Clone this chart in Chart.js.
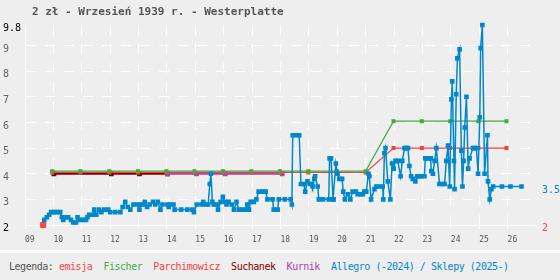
<!DOCTYPE html>
<html>
<head>
<meta charset="utf-8">
<script src="https://cdn.jsdelivr.net/npm/chart.js@4/dist/chart.umd.min.js"></script>
<style>
  html, body { margin: 0; padding: 0; background: #eeeeee; }
  #wrap { position: relative; width: 560px; height: 280px; overflow: hidden; }
  #legend {
    position: absolute; left: 0; top: 250px; width: 560px; height: 27px;
    border-top: 3px solid #fff; line-height: 27px; padding-left: 9px;
    font-family: "DejaVu Sans Mono", monospace; font-size: 10px; letter-spacing: -0.47px;
    white-space: pre; color: #555;
  }
</style>
</head>
<body>
<div id="wrap">
  <canvas id="chart" width="560" height="250"></canvas>
  <div id="legend"><span style="color:#555">Legenda:</span> <span style="color:#ff4444">emisja</span>  <span style="color:#44aa44">Fischer</span>  <span style="color:#ee4444">Parchimowicz</span>  <span style="color:#800000">Suchanek</span>  <span style="color:#aa44aa">Kurnik</span>  <span style="color:#0088cc">Allegro (-2024) / Sklepy (2025-)</span></div>
</div>
<script>
// tytul i osie
const title = '2 zł - Wrzesień 1939 r. - Westerplatte';
const xTickYears = [2009, 2010, 2011, 2012, 2013, 2014, 2015, 2016, 2017, 2018, 2019, 2020, 2021, 2022, 2023, 2024, 2025, 2026];
const yTicks = [2, 3, 4, 5, 6, 7, 8, 9, 9.8];

// emisja
const emisjaX = [2009.64];
const emisjaY = [2];

// Fischer
const fischerX = [2009.96, 2010.95, 2011.97, 2012.98, 2013.98, 2014.97, 2015.97, 2016.97, 2017.98, 2018.98, 2019.99, 2021.0, 2021.98, 2022.98, 2023.98, 2024.97, 2025.96];
const fischerY = [4.1, 4.1, 4.1, 4.1, 4.1, 4.1, 4.1, 4.1, 4.1, 4.1, 4.1, 4.1, 6.05, 6.05, 6.05, 6.05, 6.05];

// Parchimowicz
const parchX = [2009.96, 2010.95, 2011.97, 2012.98, 2013.98, 2014.97, 2015.97, 2016.97, 2017.98, 2018.98, 2019.99, 2021.0, 2021.98, 2022.98, 2023.98, 2024.97, 2025.96];
const parchY = [4.05, 4.05, 4.05, 4.05, 4.05, 4.05, 4.05, 4.05, 4.05, 4.05, 4.05, 4.05, 5.0, 5.0, 5.0, 5.0, 5.0];

// Suchanek
const suchanekX = [2010.02, 2012.04, 2013.03, 2014.02];
const suchanekY = [4.0, 4.0, 4.0, 4.0];

// Kurnik
const kurnikX = [2014.02, 2015.04, 2016.05, 2018.06];
const kurnikY = [4.0, 4.0, 4.0, 4.0];

// Allegro / sklepy
const allegroX = [
  2009.68, 2009.77, 2009.85, 2009.92, 2010.02, 2010.12, 2010.24, 2010.30, 2010.35, 2010.46,
  2010.52, 2010.62, 2010.70, 2010.80, 2010.85, 2010.94, 2011.05, 2011.15, 2011.20, 2011.26,
  2011.40, 2011.44, 2011.51, 2011.61, 2011.69, 2011.79, 2011.93, 2012.00, 2012.18, 2012.36,
  2012.44, 2012.53, 2012.62, 2012.71, 2012.82, 2012.96, 2013.03, 2013.07, 2013.17, 2013.22,
  2013.30, 2013.39, 2013.51, 2013.59, 2013.68, 2013.77, 2013.84, 2014.02, 2014.06, 2014.12,
  2014.23, 2014.27, 2014.50, 2014.72, 2014.90, 2014.95, 2015.05, 2015.22, 2015.28, 2015.36,
  2015.45, 2015.51, 2015.55, 2015.60, 2015.65, 2015.75, 2015.80, 2015.89, 2015.97, 2016.04,
  2016.10, 2016.17, 2016.28, 2016.36, 2016.45, 2016.53, 2016.65, 2016.77, 2016.83, 2016.89,
  2016.95, 2017.06, 2017.15, 2017.23, 2017.36, 2017.48, 2017.54, 2017.72, 2017.76, 2017.90,
  2017.94, 2018.15, 2018.36, 2018.40, 2018.43, 2018.55, 2018.66, 2018.72, 2018.82, 2018.87,
  2018.95, 2019.04, 2019.11, 2019.13, 2019.19, 2019.22, 2019.31, 2019.35, 2019.50, 2019.70,
  2019.73, 2019.78, 2019.85, 2019.87, 2019.95, 2020.01, 2020.07, 2020.17, 2020.21, 2020.27,
  2020.37, 2020.46, 2020.54, 2020.66, 2020.72, 2020.82, 2020.90, 2020.95, 2021.02, 2021.10,
  2021.13, 2021.19, 2021.31, 2021.37, 2021.48, 2021.60, 2021.62, 2021.66, 2021.70, 2021.78,
  2021.87, 2021.93, 2021.99, 2022.05, 2022.13, 2022.23, 2022.29, 2022.37, 2022.43, 2022.49,
  2022.54, 2022.60, 2022.66, 2022.75, 2022.82, 2022.89, 2022.96, 2023.07, 2023.10, 2023.20,
  2023.29, 2023.31, 2023.37, 2023.43, 2023.49, 2023.60, 2023.69, 2023.78, 2023.84, 2023.90,
  2023.96, 2024.02, 2024.05, 2024.11, 2024.13, 2024.19, 2024.23, 2024.31, 2024.37, 2024.41,
  2024.45, 2024.49, 2024.55, 2024.61, 2024.66, 2024.78, 2024.84, 2024.90, 2024.96, 2025.02,
  2025.05, 2025.11, 2025.19, 2025.29, 2025.31, 2025.37, 2025.43, 2025.49, 2025.80, 2026.10,
  2026.49
];
const allegroY = [
  2.2, 2.3, 2.4, 2.5, 2.5, 2.5, 2.5, 2.3, 2.2, 2.3,
  2.3, 2.2, 2.1, 2.1, 2.3, 2.2, 2.2, 2.2, 2.3, 2.4,
  2.4, 2.6, 2.4, 2.6, 2.5, 2.6, 2.6, 2.5, 2.5, 2.5,
  2.7, 2.9, 2.7, 2.6, 2.8, 2.8, 2.6, 2.8, 2.8, 2.9,
  2.7, 2.8, 2.9, 2.8, 2.9, 2.6, 2.8, 2.8, 2.7, 2.8,
  2.8, 2.6, 2.6, 2.6, 2.6, 2.5, 2.8, 2.8, 2.9, 2.8,
  2.8, 3.6, 4.0, 2.9, 2.8, 2.8, 2.6, 2.9, 3.1, 2.9,
  2.8, 2.9, 2.8, 2.6, 2.9, 2.6, 2.6, 2.6, 2.8, 2.6,
  2.9, 2.9, 3.0, 3.3, 3.3, 3.3, 3.0, 3.0, 2.6, 2.6,
  3.0, 3.0, 3.0, 2.8, 5.5, 5.5, 5.5, 3.6, 3.6, 3.3,
  3.7, 3.6, 3.6, 3.5, 3.8, 3.9, 3.5, 3.0, 3.0, 3.0,
  4.6, 4.6, 3.0, 3.0, 4.4, 4.0, 3.8, 3.8, 3.3, 3.0,
  3.2, 3.0, 3.3, 3.3, 3.2, 3.2, 3.2, 3.3, 3.3, 4.0,
  3.9, 3.0, 3.4, 3.5, 3.5, 3.5, 3.0, 4.8, 5.0, 3.7,
  3.0, 4.4, 4.2, 4.5, 4.5, 3.9, 4.5, 5.0, 5.0, 5.0,
  4.3, 3.9, 3.8, 3.7, 3.9, 3.9, 3.9, 3.9, 4.6, 4.6,
  4.6, 4.1, 4.0, 4.5, 5.0, 3.6, 3.6, 3.6, 4.5, 5.1,
  3.5, 6.9, 7.6, 4.5, 3.4, 7.1, 8.5, 8.85, 4.9, 3.5,
  4.5, 5.8, 7.0, 4.2, 4.6, 5.0, 5.0, 5.0, 4.0, 6.2,
  8.9, 9.8, 4.0, 5.5, 3.7, 3.0, 3.4, 3.5, 3.5, 3.5,
  3.5
];

const blue = '#0088cc';
const red = '#ff4444';
const font = '"DejaVu Sans Mono", monospace';

function pts(xs, ys) {
  return xs.map((x, i) => ({ x: x, y: ys[i] }));
}

// tytul + ostatnie wartosci po prawej
const decor = {
  id: 'decor',
  afterDraw(chart) {
    const ctx = chart.ctx;
    const ys = chart.scales.y;
    ctx.save();
    ctx.textBaseline = 'middle';
    ctx.font = 'bold 11px ' + font;
    ctx.fillStyle = '#555';
    ctx.fillText(title, 32, 12);
    ctx.font = '10px ' + font;
    const lastA = allegroY[allegroY.length - 1];
    ctx.fillStyle = blue;
    ctx.fillText(String(lastA), 542, ys.getPixelForValue(lastA) + 3.5);
    ctx.fillStyle = red;
    ctx.fillText(String(emisjaY[0]), 542, ys.getPixelForValue(emisjaY[0]) + 3.5);
    ctx.restore();
  }
};

new Chart(document.getElementById('chart'), {
  type: 'line',
  data: {
    datasets: [
      { label: 'Allegro', data: pts(allegroX, allegroY), borderColor: blue, backgroundColor: blue,
        borderWidth: 1.5, pointStyle: 'rect', pointRadius: 2.2, clip: false },
      { label: 'emisja', data: pts(emisjaX, emisjaY), borderColor: red, backgroundColor: red,
        pointStyle: 'rect', pointRadius: 3.6, showLine: false, clip: false },
      { label: 'Fischer', data: pts(fischerX, fischerY), borderColor: '#44aa44', backgroundColor: '#44aa44',
        borderWidth: 1.2, pointStyle: 'rect', pointRadius: 2 },
      { label: 'Parchimowicz', data: pts(parchX, parchY), borderColor: '#ee4444', backgroundColor: '#ee4444',
        borderWidth: 1.2, pointStyle: 'rect', pointRadius: 2 },
      { label: 'Kurnik', data: pts(kurnikX, kurnikY), borderColor: '#aa44aa', backgroundColor: '#aa44aa',
        borderWidth: 2, pointStyle: 'rect', pointRadius: 2 },
      { label: 'Suchanek', data: pts(suchanekX, suchanekY), borderColor: '#800000', backgroundColor: '#800000',
        borderWidth: 2, pointStyle: 'rect', pointRadius: 2 }
    ]
  },
  options: {
    responsive: false,
    animation: false,
    layout: { padding: { top: 25, right: 24, bottom: 0, left: 3 } },
    plugins: { legend: { display: false }, tooltip: { enabled: false }, title: { display: false } },
    elements: { line: { tension: 0 } },
    scales: {
      x: {
        type: 'linear', min: 2009, max: 2027,
        afterBuildTicks: s => { s.ticks = xTickYears.map(v => ({ value: v })); },
        afterFit: s => { s.height = 25; },
        grid: { color: '#fff', lineWidth: 1, tickLength: 4, tickColor: '#fff' },
        border: { color: '#fff', width: 1, dash: [10, 9] },
        ticks: { align: 'start', padding: 6, color: '#555', font: { family: font, size: 8 },
          callback: v => String(v).slice(2) }
      },
      y: {
        min: 2, max: 9.8,
        afterBuildTicks: s => { s.ticks = yTicks.map(v => ({ value: v })); },
        afterFit: s => { s.width = 22; },
        grid: { color: c => (c.tick && c.tick.value === 9.8) ? 'rgba(0,0,0,0)' : '#fff', lineWidth: 1, drawTicks: false },
        border: { color: '#fff', width: 1, dash: [10, 9] },
        ticks: { crossAlign: 'far', padding: 0, labelOffset: 3.5, font: { family: font, size: 10 },
          color: c => (c.tick.value === 2 || c.tick.value === 9.8) ? '#000' : '#666',
          callback: v => String(v) }
      }
    }
  },
  plugins: [decor]
});
</script>
</body>
</html>
